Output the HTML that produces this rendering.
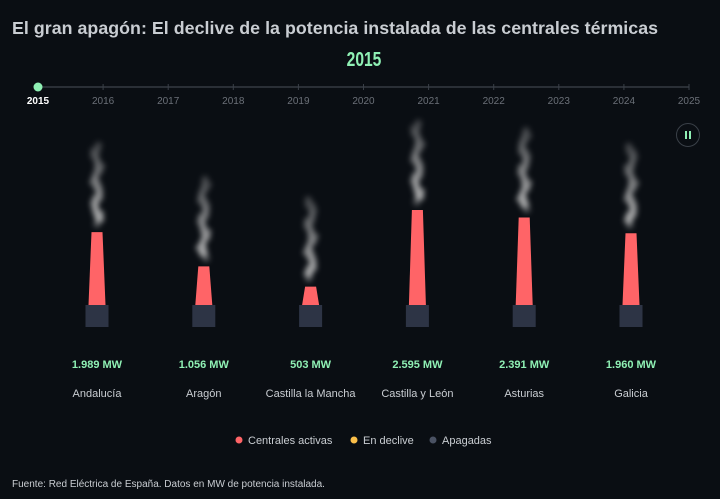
<!DOCTYPE html>
<html><head><meta charset="utf-8"><style>
body{margin:0;background:#0a0e13;width:720px;height:499px;overflow:hidden;font-family:"Liberation Sans",sans-serif;}
svg{display:block}
</style></head><body>
<svg width="720" height="499">
<defs><filter id="blur" x="-50%" y="-50%" width="200%" height="200%"><feGaussianBlur stdDeviation="2.6"/></filter></defs>
<rect width="720" height="499" fill="#0a0e13"/>
<text x="12" y="34" font-size="17.8" font-weight="bold" fill="#c9cdd2" textLength="646">El gran apagón: El declive de la potencia instalada de las centrales térmicas</text>
<text x="0" y="0" font-size="20" font-weight="bold" fill="#8ff0b4" text-anchor="middle" transform="translate(364,66) scale(0.78,1)">2015</text>
<line x1="38" y1="87" x2="689" y2="87" stroke="#2a2f36" stroke-width="2"/>
<g id="timeline"></g>
<circle cx="38" cy="87" r="4.5" fill="#8ff0b4"/>
<g><circle cx="688" cy="135" r="11.5" fill="none" stroke="#3a4048"/><rect x="685" y="131" width="2" height="8" fill="#8ff0b4"/><rect x="689" y="131" width="2" height="8" fill="#8ff0b4"/></g>
<g id="chimneys"></g>
<g>
<circle cx="239" cy="440" r="3.5" fill="#ff6467"/><text x="248" y="444" font-size="11" fill="#c9cdd2">Centrales activas</text>
<circle cx="354" cy="440" r="3.5" fill="#fbbf4a"/><text x="363" y="444" font-size="11" fill="#c9cdd2">En declive</text>
<circle cx="433" cy="440" r="3.5" fill="#4a5263"/><text x="442" y="444" font-size="11" fill="#c9cdd2">Apagadas</text>
</g>
<text x="12" y="487" font-size="10" fill="#c9cdd2">Fuente: Red Eléctrica de España. Datos en MW de potencia instalada.</text>
</svg>
<script>
const years=[2015,2016,2017,2018,2019,2020,2021,2022,2023,2024,2025];
const regions=["Andalucía","Aragón","Castilla la Mancha","Castilla y León","Asturias","Galicia"];
const values=[1989,1056,503,2595,2391,1960];
const labels=["1.989 MW","1.056 MW","503 MW","2.595 MW","2.391 MW","1.960 MW"];
const NS="http://www.w3.org/2000/svg";
function mk(t,a,p){const e=document.createElementNS(NS,t);for(const k in a)e.setAttribute(k,a[k]);p.appendChild(e);return e;}
const tl=document.getElementById('timeline');
const xYear=i=>38+i*(651/(years.length-1));
years.forEach((y,i)=>{
 if(i>0) mk('line',{x1:xYear(i),y1:84,x2:xYear(i),y2:90,stroke:'#3a4048'},tl);
 const t=mk('text',{x:xYear(i),y:104,'font-size':10,'text-anchor':'middle',fill:i==0?'#ffffff':'#6b7078','font-weight':i==0?'bold':'normal'},tl);
 t.textContent=y;
 
 
});
const g=document.getElementById('chimneys');
const baseY=305, scale=95/2595;
const xC=i=>97+i*106.8;
regions.forEach((r,i)=>{
 const cx=xC(i),h=values[i]*scale,top=baseY-h;
 const grp=mk('g',{},g);
 
 
 const sm=mk('g',{filter:'url(#blur)'},grp);
 const sh=84;
 for(let k=0;k<16;k++){
  const yy=top-8-k*(sh/16);
  const dx=Math.sin(k*1.3+i*2)*2.5;
  mk('ellipse',{cx:cx+dx,cy:yy,rx:4+(k%3)*0.8,ry:4,fill:'#d0d0d0','fill-opacity':k==0?0.3:Math.max(0.2,0.75-k*0.035)},sm);
 }
 mk('polygon',{points:`${cx-5.5},${top} ${cx+5.5},${top} ${cx+8.5},${baseY} ${cx-8.5},${baseY}`,fill:'#ff6467'},grp);
 mk('rect',{x:cx-11.5,y:baseY,width:23,height:22,fill:'#2d3445'},grp);
 const v=mk('text',{x:cx,y:368,'font-size':11,'font-weight':'bold','text-anchor':'middle',fill:'#8ff0b4'},grp);v.textContent=labels[i];
 
 
 const n=mk('text',{x:cx,y:397,'font-size':11,'text-anchor':'middle',fill:'#c9cdd2'},grp);n.textContent=r;
 
 
});
</script>
</body></html>
